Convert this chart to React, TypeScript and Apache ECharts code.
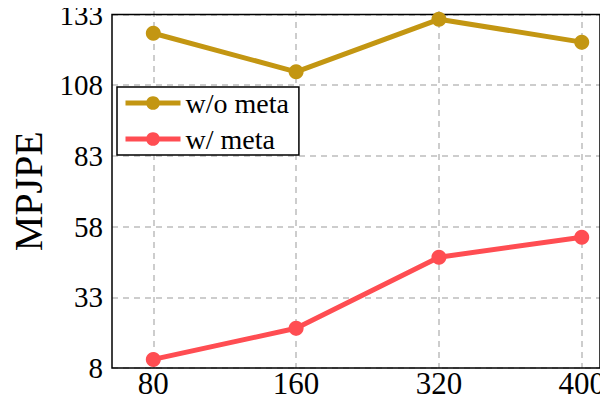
import React, { useEffect, useRef } from "react";
import * as echarts from "echarts";

const categories = ["80", "160", "320", "400"];
const woMeta = [125.2, 111.7, 130.1, 122.1];
const wMeta = [11.0, 21.9, 46.8, 53.8];
const yTicks = { min: 8, max: 133, interval: 25 };

const FONT = "'Liberation Serif', 'Times New Roman', serif";
const GOLD = "#C39612";
const RED = "#FF4D52";

export default function App() {
  const ref = useRef<HTMLDivElement>(null);
  useEffect(() => {
    if (!ref.current) return;
    const chart = echarts.init(ref.current, undefined, { renderer: "svg" });
    const dashed = { show: true, lineStyle: { color: "#bdbdbd", width: 1.5, type: [6, 5] } };
    chart.setOption({
      animation: false,
      backgroundColor: "#ffffff",
      grid: [
        { left: 112, right: 8, top: 11, bottom: 36, show: true, borderColor: "#000", borderWidth: 1.5, backgroundColor: "transparent", z: 3 },
        { left: 153.3, right: 16.7, top: 11, bottom: 36 },
      ],
      xAxis: [
        { gridIndex: 0, type: "value", min: 0, max: 1, show: false, splitLine: { show: false } },
        {
          gridIndex: 1,
          type: "category",
          data: categories,
          boundaryGap: false,
          axisLine: { show: false },
          axisTick: { show: false },
          axisLabel: { color: "#000", fontFamily: FONT, fontSize: 31, margin: 0, lineHeight: 31 },
          splitLine: dashed,
        },
      ],
      yAxis: [
        {
          gridIndex: 0,
          type: "value",
          min: yTicks.min,
          max: yTicks.max,
          interval: yTicks.interval,
          axisLine: { show: false },
          axisTick: { show: false },
          axisLabel: { color: "#000", fontFamily: FONT, fontSize: 29, margin: 9 },
          splitLine: dashed,
          name: "MPJPE",
          nameLocation: "middle",
          nameRotate: 90,
          nameGap: 62,
          nameTextStyle: { color: "#000", fontFamily: FONT, fontSize: 40 },
        },
        { gridIndex: 1, type: "value", min: yTicks.min, max: yTicks.max, show: false, splitLine: { show: false } },
      ],
      legend: {
        orient: "vertical",
        left: 117,
        top: 87,
        backgroundColor: "#fff",
        borderColor: "#000",
        borderWidth: 1.5,
        borderRadius: 0,
        padding: [2, 10, 2, 6],
        itemWidth: 55,
        itemHeight: 17,
        itemGap: 8,
        lineStyle: { width: 5 },
        textStyle: { color: "#000", fontFamily: FONT, fontSize: 28, lineHeight: 28 },
        data: ["w/o meta", "w/ meta"],
      },
      series: [
        {
          name: "w/o meta",
          type: "line",
          xAxisIndex: 1,
          yAxisIndex: 1,
          data: woMeta,
          color: GOLD,
          symbol: "circle",
          symbolSize: 15,
          lineStyle: { width: 5, color: GOLD },
          itemStyle: { color: GOLD },
          z: 5,
        },
        {
          name: "w/ meta",
          type: "line",
          xAxisIndex: 1,
          yAxisIndex: 1,
          data: wMeta,
          color: RED,
          symbol: "circle",
          symbolSize: 15,
          lineStyle: { width: 5, color: RED },
          itemStyle: { color: RED },
          z: 5,
        },
      ],
    });
    return () => chart.dispose();
  }, []);
  return <div ref={ref} style={{ width: 608, height: 404, margin: -8 }} />;
}
